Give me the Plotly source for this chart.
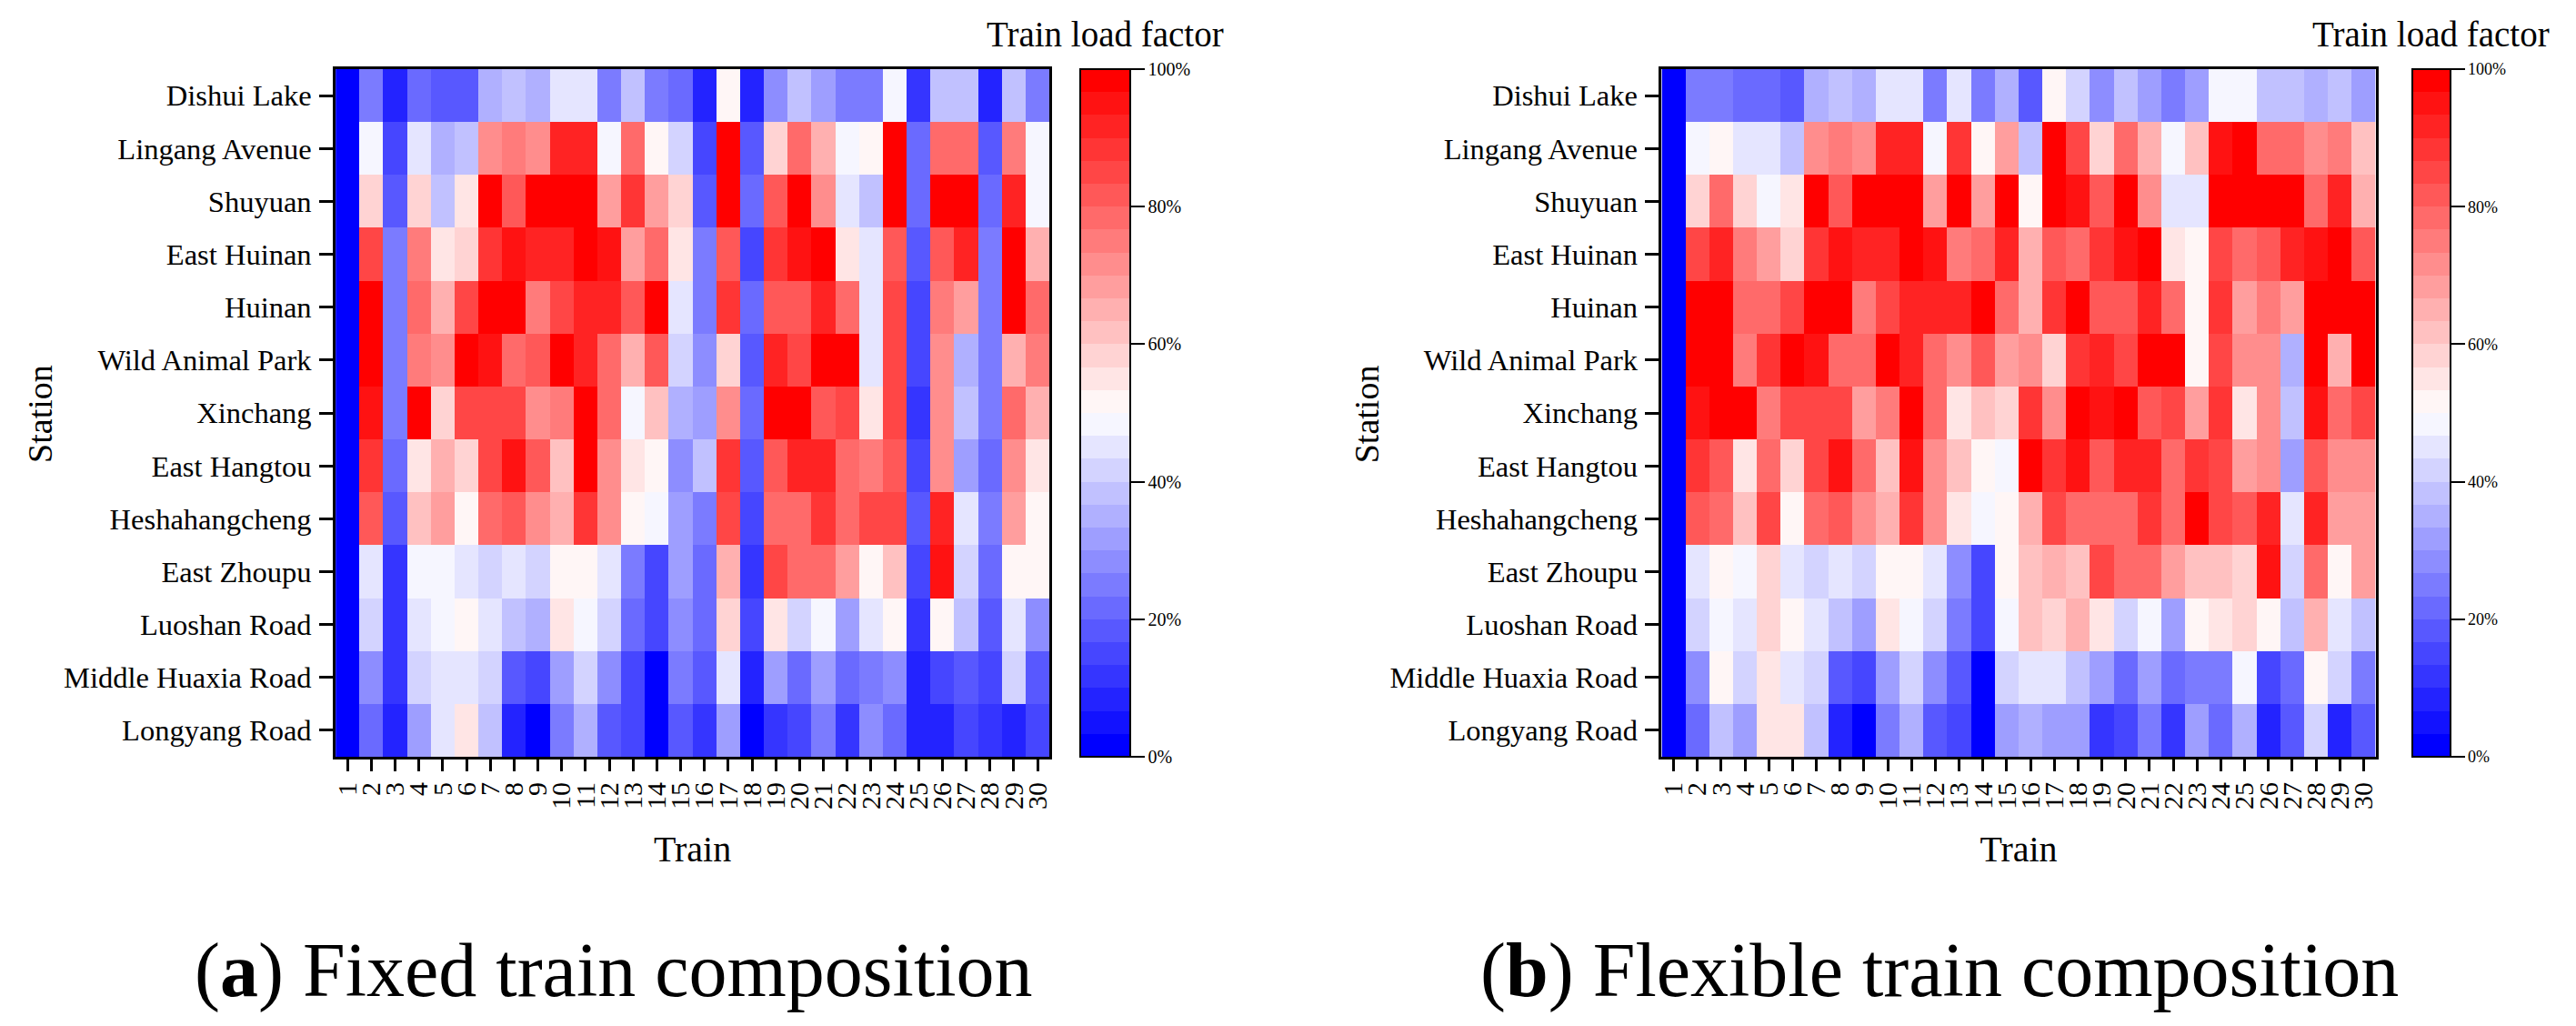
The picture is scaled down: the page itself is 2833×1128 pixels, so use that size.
import plotly.graph_objects as go

stations = ["Dishui Lake", "Lingang Avenue", "Shuyuan", "East Huinan", "Huinan", "Wild Animal Park",
            "Xinchang", "East Hangtou", "Heshahangcheng", "East Zhoupu", "Luoshan Road",
            "Middle Huaxia Road", "Longyang Road"]
trains = [str(i) for i in range(1, 31)]
colorbar_ticks = [0, 20, 40, 60, 80, 100]

fixed_load = [
    [0,25,8,22,18,18,35,38,35,45,45,25,38,25,22,8,52,8,28,38,32,25,25,48,12,38,38,8,38,25],
    [0,48,15,45,35,38,72,75,72,92,92,48,78,52,42,15,98,18,58,78,65,48,52,98,22,78,78,18,75,48],
    [0,58,18,58,38,55,98,82,98,98,98,68,88,68,58,18,98,22,82,98,72,45,38,98,22,98,98,22,92,48],
    [0,85,25,75,55,58,88,95,92,92,98,95,68,78,55,25,82,15,88,95,98,55,45,82,18,82,92,25,98,65],
    [0,98,25,78,65,85,98,98,75,85,92,92,82,98,45,25,88,22,82,82,92,78,45,85,15,75,68,25,98,78],
    [0,98,25,75,72,98,95,78,82,98,92,78,65,82,42,28,58,18,92,85,98,98,45,85,15,72,35,25,65,75],
    [0,95,25,98,58,85,85,85,72,75,98,78,48,62,35,32,72,22,98,98,82,85,55,85,12,72,38,25,78,65],
    [0,88,22,55,65,58,85,95,82,62,98,72,55,52,28,38,88,18,82,92,92,78,75,82,15,72,32,22,72,55],
    [0,82,18,62,68,52,78,82,72,65,88,72,52,48,32,25,85,15,78,78,88,78,85,85,18,92,45,25,68,52],
    [0,45,12,48,48,45,42,45,42,52,52,45,25,15,32,22,65,12,85,78,78,68,52,62,15,95,42,22,52,52],
    [0,42,12,45,48,52,45,38,35,55,48,42,22,15,28,22,58,15,55,42,48,32,45,52,12,52,38,18,45,28],
    [0,28,12,42,45,45,42,18,15,32,42,28,15,2,25,18,45,8,32,22,32,22,25,28,8,15,18,15,42,18],
    [0,22,8,32,45,55,38,8,2,25,35,18,15,2,18,12,32,2,12,15,25,12,28,22,8,8,15,12,8,15],
]
flexible_load = [
    [0,25,25,22,22,18,35,38,35,45,45,25,45,25,35,18,52,42,28,38,32,25,32,48,48,38,38,35,38,32],
    [0,48,52,45,45,38,72,75,72,92,92,48,88,52,68,38,98,85,58,78,65,48,62,95,98,78,78,72,75,62],
    [0,58,78,58,48,55,98,82,98,98,98,68,98,68,98,52,98,95,82,98,72,45,45,98,98,98,98,78,92,65],
    [0,85,92,75,68,58,88,95,92,92,98,95,75,78,92,65,82,78,88,95,98,55,52,85,78,82,92,95,98,82],
    [0,98,98,78,78,85,98,98,75,85,92,92,92,98,78,65,88,98,82,82,92,78,52,88,68,75,68,98,98,98],
    [0,98,98,75,88,98,95,78,78,98,92,78,72,82,68,72,58,88,92,85,98,98,52,85,72,72,35,98,65,98],
    [0,95,98,98,75,85,85,85,68,75,98,78,55,62,58,88,72,98,95,98,82,85,68,88,55,72,38,95,78,85],
    [0,88,82,55,78,58,85,95,78,62,95,72,62,52,48,98,88,95,82,92,92,78,88,85,68,72,32,82,72,72],
    [0,82,78,62,85,52,78,82,72,65,88,72,55,48,52,65,85,78,78,78,88,78,98,85,82,92,45,92,68,68],
    [0,45,52,48,58,45,42,45,42,52,52,45,28,15,52,62,65,62,85,78,78,68,62,62,58,95,42,78,52,68],
    [0,42,48,45,58,52,45,38,32,55,48,42,25,15,48,62,58,65,55,42,48,32,52,55,58,52,38,65,45,38],
    [0,28,52,42,55,45,42,18,15,32,42,28,18,2,42,45,45,38,32,22,32,22,25,25,48,15,22,52,42,25],
    [0,22,38,32,55,55,38,8,2,25,35,18,15,2,32,35,32,32,12,15,25,12,32,22,35,8,18,42,8,18],
]

W, H = 2833, 1128
FONT = "Liberation Serif"
N = 30

def bwr(t):
    if t < 0.5:
        v = round(255 * t * 2)
        return f"rgb({v},{v},255)"
    v = round(255 * (1 - t) * 2)
    return f"rgb(255,{v},{v})"

colorscale = []
for k in range(N):
    c = bwr(k / (N - 1))
    colorscale += [[k / N, c], [(k + 1) / N, c]]

def fx(p):
    return p / W

def fy(p):
    return 1 - p / H

TOP, BOTTOM = 76, 832
panels = [
    dict(z=fixed_load, left=366, right=1153, cb=1187, cbw=55, cbfont=20, title_x=40, head_right=1347,
         label="(<b>a</b>) Fixed train composition", cap_x=673),
    dict(z=flexible_load, left=1828, right=2615, cb=2656, cbw=42, cbfont=18, title_x=1503, head_right=2809,
         label="(<b>b</b>) Flexible train composition", cap_x=2134),
]

fig = go.Figure()
annotations = []
axis_common = dict(showline=True, linewidth=3, linecolor="black", mirror=True, ticks="outside",
                   tickwidth=3, tickcolor="black", showgrid=False, zeroline=False, type="category")
for i, p in enumerate(panels, start=1):
    sfx = "" if i == 1 else str(i)
    fig.add_trace(go.Heatmap(
        z=p["z"], x=trains, y=stations, xaxis=f"x{sfx}", yaxis=f"y{sfx}",
        colorscale=colorscale, zmin=0, zmax=100, xgap=0, ygap=0,
        colorbar=dict(
            x=fx(p["cb"]), xanchor="left", xpad=0, y=fy(TOP), yanchor="top", ypad=0,
            thicknessmode="pixels", thickness=p["cbw"], lenmode="pixels", len=BOTTOM - TOP,
            outlinewidth=2, outlinecolor="black", tickmode="array", tickvals=colorbar_ticks,
            ticktext=[f"{t}%" for t in colorbar_ticks], ticks="outside", ticklen=15, tickwidth=2,
            tickcolor="black", tickfont=dict(family=FONT, size=p["cbfont"], color="black"),
        ),
    ))
    fig.update_layout({
        f"xaxis{sfx}": dict(axis_common, domain=[fx(p["left"]), fx(p["right"])], anchor=f"y{sfx}",
                            ticklen=13, tickangle=-90, dtick=1,
                            tickfont=dict(family=FONT, size=30, color="black"),
                            title=dict(text="Train", standoff=30, font=dict(family=FONT, size=40, color="black"))),
        f"yaxis{sfx}": dict(axis_common, domain=[fy(BOTTOM), fy(TOP)], anchor=f"x{sfx}", ticklen=15,
                            autorange="reversed", dtick=1, ticklabelstandoff=2,
                            tickfont=dict(family=FONT, size=32.5, color="black")),
    })
    annotations += [
        dict(text="Station", x=fx(p["title_x"]), y=fy(455), xref="paper", yref="paper", textangle=-90,
             showarrow=False, xanchor="center", yanchor="middle", font=dict(family=FONT, size=38, color="black")),
        dict(text="Train load factor", x=fx(p["head_right"]), y=fy(61), xref="paper", yref="paper",
             showarrow=False, xanchor="right", yanchor="bottom", font=dict(family=FONT, size=39, color="black")),
        dict(text=p["label"], x=fx(p["cap_x"]), y=fy(1067), xref="paper", yref="paper",
             showarrow=False, xanchor="center", yanchor="middle", font=dict(family=FONT, size=84, color="black")),
    ]

fig.update_layout(width=W, height=H, margin=dict(l=0, r=0, t=0, b=0), paper_bgcolor="white",
                  plot_bgcolor="white", annotations=annotations, font=dict(family=FONT, color="black"))
fig.write_html("out.html", config={"displayModeBar": False}, post_script="document.body.style.margin='0';")
